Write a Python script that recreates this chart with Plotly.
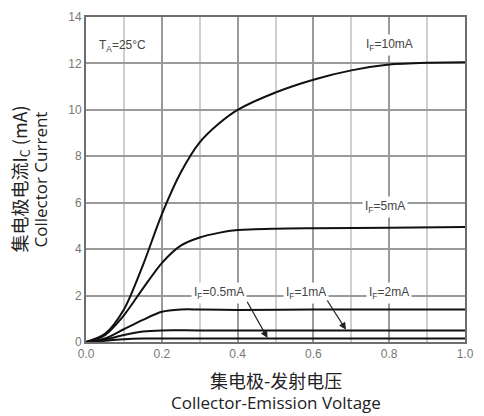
import plotly.graph_objects as go

# Data
x_10 = [0, 0.05, 0.1, 0.15, 0.2, 0.25, 0.3, 0.35, 0.4, 0.5, 0.6, 0.7, 0.8, 0.9, 1.0]
y_10 = [0, 0.35, 1.4, 3.3, 5.5, 7.3, 8.6, 9.4, 10.0, 10.75, 11.3, 11.7, 11.95, 12.03, 12.05]

x_5 = [0, 0.05, 0.1, 0.15, 0.2, 0.25, 0.3, 0.35, 0.4, 0.5, 0.6, 0.8, 1.0]
y_5 = [0, 0.3, 1.15, 2.3, 3.4, 4.15, 4.5, 4.7, 4.82, 4.88, 4.9, 4.92, 4.95]

x_2 = [0, 0.05, 0.1, 0.15, 0.2, 0.25, 0.3, 0.4, 0.6, 1.0]
y_2 = [0, 0.15, 0.55, 0.95, 1.3, 1.4, 1.4, 1.38, 1.4, 1.4]

x_1 = [0, 0.05, 0.1, 0.15, 0.2, 0.3, 1.0]
y_1 = [0, 0.1, 0.3, 0.45, 0.5, 0.5, 0.5]

x_05 = [0, 0.05, 0.1, 0.15, 0.3, 1.0]
y_05 = [0, 0.05, 0.12, 0.15, 0.15, 0.15]

series = [
    ("IF=10mA", x_10, y_10),
    ("IF=5mA", x_5, y_5),
    ("IF=2mA", x_2, y_2),
    ("IF=1mA", x_1, y_1),
    ("IF=0.5mA", x_05, y_05),
]

fig = go.Figure()
for name, xs, ys in series:
    fig.add_trace(go.Scatter(
        x=xs, y=ys, mode="lines", name=name,
        line=dict(color="#111111", width=2, shape="spline", smoothing=0.8),
        showlegend=False, hoverinfo="skip",
    ))

lab_font = dict(family="Liberation Sans, Arial, sans-serif", size=12, color="#444444")

labels = [
    ("I<sub>F</sub>=10mA", 0.8, 12.8),
    ("I<sub>F</sub>=5mA", 0.79, 5.8),
    ("I<sub>F</sub>=0.5mA", 0.35, 2.1),
    ("I<sub>F</sub>=1mA", 0.58, 2.1),
    ("I<sub>F</sub>=2mA", 0.8, 2.1),
]
for t, xx, yy in labels:
    fig.add_annotation(x=xx, y=yy, text=t, showarrow=False, font=lab_font,
                       bgcolor="white", borderpad=2)

fig.add_annotation(x=0.03, y=12.75, text="T<sub>A</sub>=25°C", showarrow=False,
                   xanchor="left", font=lab_font)

# arrows
for (hx, hy, tx, ty) in [(0.479, 0.17, 0.423, 1.8), (0.686, 0.53, 0.634, 1.85)]:
    fig.add_annotation(x=hx, y=hy, ax=tx, ay=ty, axref="x", ayref="y",
                       xref="x", yref="y", text="", showarrow=True,
                       arrowhead=2, arrowsize=1.2, arrowwidth=1.2, arrowcolor="#222222")

cn = "Noto Sans CJK SC"
en = "Open Sans, Noto Sans, sans-serif"
# x-axis title
fig.add_annotation(xref="paper", yref="paper", x=0.5, y=0, yshift=-38, yanchor="middle",
                   text="集电极-发射电压", showarrow=False,
                   font=dict(family=cn, size=18, color="#222222"))
fig.add_annotation(xref="paper", yref="paper", x=0.5, y=0, yshift=-60, yanchor="middle",
                   text="Collector-Emission Voltage", showarrow=False,
                   font=dict(family=en, size=17, color="#222222"))
# y-axis title
fig.add_annotation(xref="paper", yref="paper", x=0, y=0.5, xshift=-66, xanchor="center",
                   text="集电极电流I<sub>C</sub> (mA)", showarrow=False, textangle=-90,
                   font=dict(family=cn, size=18, color="#222222"))
fig.add_annotation(xref="paper", yref="paper", x=0, y=0.5, xshift=-46, xanchor="center",
                   text="Collector Current", showarrow=False, textangle=-90,
                   font=dict(family=en, size=17, color="#222222"))

tick_font = dict(family="Liberation Sans, Arial, sans-serif", size=12, color="#777777")

fig.update_xaxes(
    range=[0, 1.0], dtick=0.2, tickformat=".1f",
    showgrid=True, gridcolor="#9a9a9a", gridwidth=1.5,
    minor=dict(dtick=0.1, showgrid=True, gridcolor="#cfcfcf", gridwidth=1.5),
    showline=True, linecolor="#6e6e6e", linewidth=2, mirror=True,
    tickfont=tick_font, zeroline=False,
)
fig.update_yaxes(
    range=[0, 14], dtick=2,
    showgrid=True, gridcolor="#9a9a9a", gridwidth=1.5,
    showline=True, linecolor="#6e6e6e", linewidth=2, mirror=True,
    tickfont=tick_font, zeroline=False,
)

fig.update_layout(
    width=484, height=416,
    margin=dict(l=86, r=10, t=12, b=74),
    paper_bgcolor="white", plot_bgcolor="white",
)

post = ("document.body.style.margin='0';"
        "document.documentElement.style.overflow='hidden';"
        "document.body.style.overflow='hidden';")

fig.write_html("out.html", config={"displayModeBar": False}, post_script=post)
